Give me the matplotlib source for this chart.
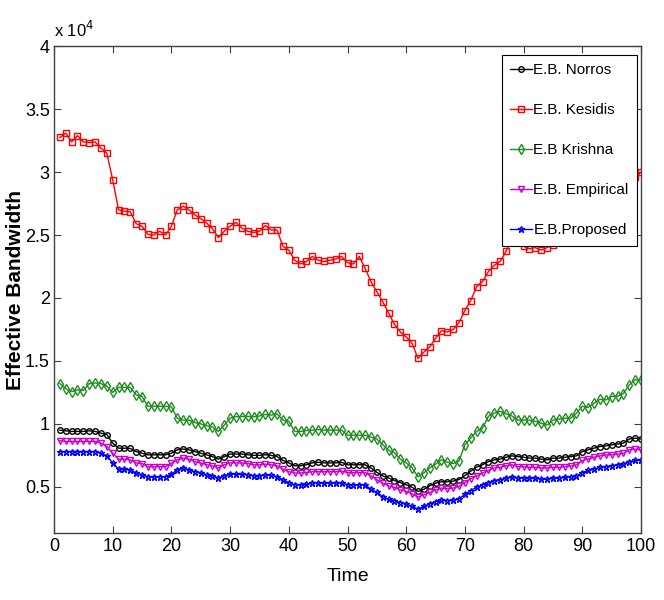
import matplotlib
matplotlib.use("Agg")
import matplotlib.pyplot as plt
from matplotlib.ticker import FuncFormatter, MultipleLocator
import numpy as np

# time axis, one sample per step
time = list(range(1, 101))

# effective bandwidth values, read in units of 1e4
norros = [0.95, 0.945, 0.94, 0.94, 0.94, 0.945, 0.94, 0.926, 0.915, 0.847,
          0.807, 0.807, 0.805, 0.78, 0.767, 0.754, 0.754, 0.754, 0.754, 0.767,
          0.794, 0.80, 0.794, 0.78, 0.767, 0.754, 0.74, 0.72, 0.74, 0.76,
          0.76, 0.76, 0.755, 0.75, 0.75, 0.755, 0.75, 0.74, 0.71, 0.69,
          0.667, 0.667, 0.675, 0.69, 0.695, 0.69, 0.69, 0.69, 0.695, 0.675,
          0.675, 0.675, 0.675, 0.65, 0.615, 0.587, 0.57, 0.55, 0.534, 0.516,
          0.497, 0.463, 0.48, 0.508, 0.53, 0.54, 0.54, 0.545, 0.558, 0.59,
          0.625, 0.656, 0.675, 0.70, 0.714, 0.72, 0.735, 0.746, 0.74, 0.735,
          0.728, 0.728, 0.72, 0.714, 0.728, 0.728, 0.735, 0.74, 0.746, 0.78,
          0.794, 0.807, 0.82, 0.825, 0.833, 0.84, 0.847, 0.88, 0.886, 0.88]

kesidis = [3.275, 3.31, 3.24, 3.29, 3.24, 3.235, 3.24, 3.19, 3.15, 2.94,
           2.70, 2.69, 2.685, 2.59, 2.57, 2.505, 2.50, 2.53, 2.50, 2.57,
           2.70, 2.73, 2.70, 2.66, 2.63, 2.595, 2.55, 2.48, 2.53, 2.57,
           2.60, 2.555, 2.53, 2.52, 2.53, 2.575, 2.54, 2.54, 2.41, 2.38,
           2.30, 2.27, 2.29, 2.33, 2.30, 2.29, 2.30, 2.31, 2.33, 2.28,
           2.27, 2.33, 2.235, 2.13, 2.05, 1.97, 1.88, 1.79, 1.73, 1.69,
           1.64, 1.52, 1.57, 1.61, 1.68, 1.74, 1.73, 1.75, 1.805, 1.90,
           1.98, 2.09, 2.13, 2.21, 2.26, 2.29, 2.37, 2.47, 2.49, 2.41,
           2.39, 2.40, 2.38, 2.40, 2.42, 2.47, 2.52, 2.56, 2.60, 2.64,
           2.68, 2.71, 2.75, 2.78, 2.82, 2.85, 2.89, 2.92, 2.96, 3.0]

krishna = [1.32, 1.28, 1.256, 1.27, 1.265, 1.32, 1.325, 1.32, 1.30, 1.25,
           1.29, 1.29, 1.29, 1.23, 1.217, 1.14, 1.14, 1.14, 1.14, 1.135,
           1.045, 1.03, 1.03, 1.01, 1.0, 0.985, 0.975, 0.94, 0.99, 1.045,
           1.058, 1.058, 1.06, 1.055, 1.063, 1.075, 1.07, 1.08, 1.03, 1.02,
           0.94, 0.94, 0.947, 0.95, 0.955, 0.95, 0.95, 0.95, 0.95, 0.91,
           0.91, 0.91, 0.91, 0.895, 0.88, 0.835, 0.79, 0.77, 0.72, 0.69,
           0.65, 0.58, 0.61, 0.65, 0.68, 0.715, 0.695, 0.685, 0.705, 0.835,
           0.888, 0.94, 0.965, 1.06, 1.085, 1.10, 1.08, 1.063, 1.03, 1.03,
           1.03, 1.02, 1.005, 0.99, 1.03, 1.037, 1.045, 1.045, 1.085, 1.14,
           1.13, 1.165, 1.195, 1.19, 1.217, 1.22, 1.24, 1.31, 1.35, 1.35]

empirical = [0.867, 0.86, 0.86, 0.86, 0.86, 0.86, 0.86, 0.847, 0.82, 0.767,
             0.72, 0.72, 0.714, 0.69, 0.685, 0.66, 0.66, 0.66, 0.66, 0.687,
             0.714, 0.728, 0.72, 0.70, 0.69, 0.675, 0.667, 0.65, 0.675, 0.69,
             0.69, 0.69, 0.685, 0.675, 0.675, 0.68, 0.675, 0.667, 0.64, 0.62,
             0.61, 0.61, 0.615, 0.62, 0.62, 0.62, 0.62, 0.62, 0.625, 0.613,
             0.613, 0.613, 0.613, 0.587, 0.556, 0.53, 0.508, 0.495, 0.476, 0.463,
             0.444, 0.418, 0.437, 0.455, 0.476, 0.49, 0.485, 0.49, 0.503, 0.534,
             0.565, 0.587, 0.61, 0.63, 0.65, 0.655, 0.667, 0.675, 0.66, 0.66,
             0.655, 0.655, 0.65, 0.65, 0.655, 0.655, 0.66, 0.665, 0.675, 0.71,
             0.72, 0.735, 0.746, 0.754, 0.754, 0.76, 0.767, 0.794, 0.80, 0.794]

proposed = [0.78, 0.78, 0.78, 0.78, 0.78, 0.78, 0.78, 0.767, 0.746, 0.69,
            0.64, 0.64, 0.635, 0.61, 0.595, 0.58, 0.58, 0.58, 0.58, 0.60,
            0.635, 0.65, 0.635, 0.62, 0.61, 0.595, 0.587, 0.57, 0.587, 0.60,
            0.60, 0.60, 0.595, 0.587, 0.587, 0.595, 0.59, 0.58, 0.556, 0.534,
            0.516, 0.516, 0.52, 0.53, 0.53, 0.53, 0.53, 0.53, 0.532, 0.516,
            0.516, 0.516, 0.516, 0.48, 0.455, 0.423, 0.40, 0.39, 0.375, 0.365,
            0.344, 0.323, 0.344, 0.365, 0.383, 0.397, 0.39, 0.395, 0.405, 0.44,
            0.47, 0.497, 0.516, 0.534, 0.55, 0.556, 0.57, 0.577, 0.57, 0.57,
            0.57, 0.57, 0.56, 0.56, 0.57, 0.57, 0.575, 0.58, 0.587, 0.613,
            0.63, 0.64, 0.655, 0.66, 0.667, 0.675, 0.68, 0.70, 0.71, 0.71]

labels = ["E.B. Norros", "E.B. Kesidis", "E.B Krishna", "E.B. Empirical", "E.B.Proposed"]

plt.rcParams['font.family'] = ['Liberation Sans', 'DejaVu Sans']

fig = plt.figure(figsize=(6.64, 6.0), dpi=100)
ax = fig.add_axes([0.0813, 0.111, 0.8841, 0.812])

scale = 1e4
# plot each series, open markers like the matlab figure
ax.plot(time, np.array(norros) * scale, color="black", marker="o", ms=4, mfc="none", lw=1, label=labels[0])
ax.plot(time, np.array(kesidis) * scale, color="red", marker="s", ms=4, mfc="none", lw=1, label=labels[1])
ax.plot(time, np.array(krishna) * scale, color="#1e8c1e", marker="d", ms=5, mfc="none", lw=1, label=labels[2])
ax.plot(time, np.array(empirical) * scale, color="#cc00cc", marker="v", ms=4, mfc="none", lw=1, label=labels[3])
ax.plot(time, np.array(proposed) * scale, color="blue", marker="*", ms=5, mfc="none", lw=1, label=labels[4])

ax.set_xlim(0, 100)
ax.set_ylim(1300, 40000)
ax.xaxis.set_major_locator(MultipleLocator(10))
ax.yaxis.set_major_locator(MultipleLocator(5000))
ax.yaxis.set_major_formatter(FuncFormatter(lambda v, p: "%g" % (v / scale)))

ax.tick_params(direction="in", top=True, right=True, length=5, width=0.8,
               labelsize=13, colors="#404040", labelcolor="black", pad=3)
for s in ax.spines.values():
    s.set_color("#404040")
    s.set_linewidth(1)

ax.set_xlabel("Time", fontsize=14, labelpad=10)
ax.set_ylabel("Effective Bandwidth", fontsize=15, fontweight="bold")
ax.yaxis.set_label_coords(-0.05, 0.5)
ax.text(0.0, 1.012, r"x 10$^4$", transform=ax.transAxes, fontsize=12, ha="left", va="bottom")

# legend box sits just inside the top right corner
leg = ax.legend(loc="upper right", bbox_to_anchor=(0.993, 0.982), borderaxespad=0,
                fontsize=11, frameon=True, fancybox=False, edgecolor="black",
                framealpha=1, handlelength=1.4, labelspacing=1.7,
                handletextpad=0.1, borderpad=0.55)
leg.get_frame().set_linewidth(0.8)

fig.savefig("out.png", dpi=100)
